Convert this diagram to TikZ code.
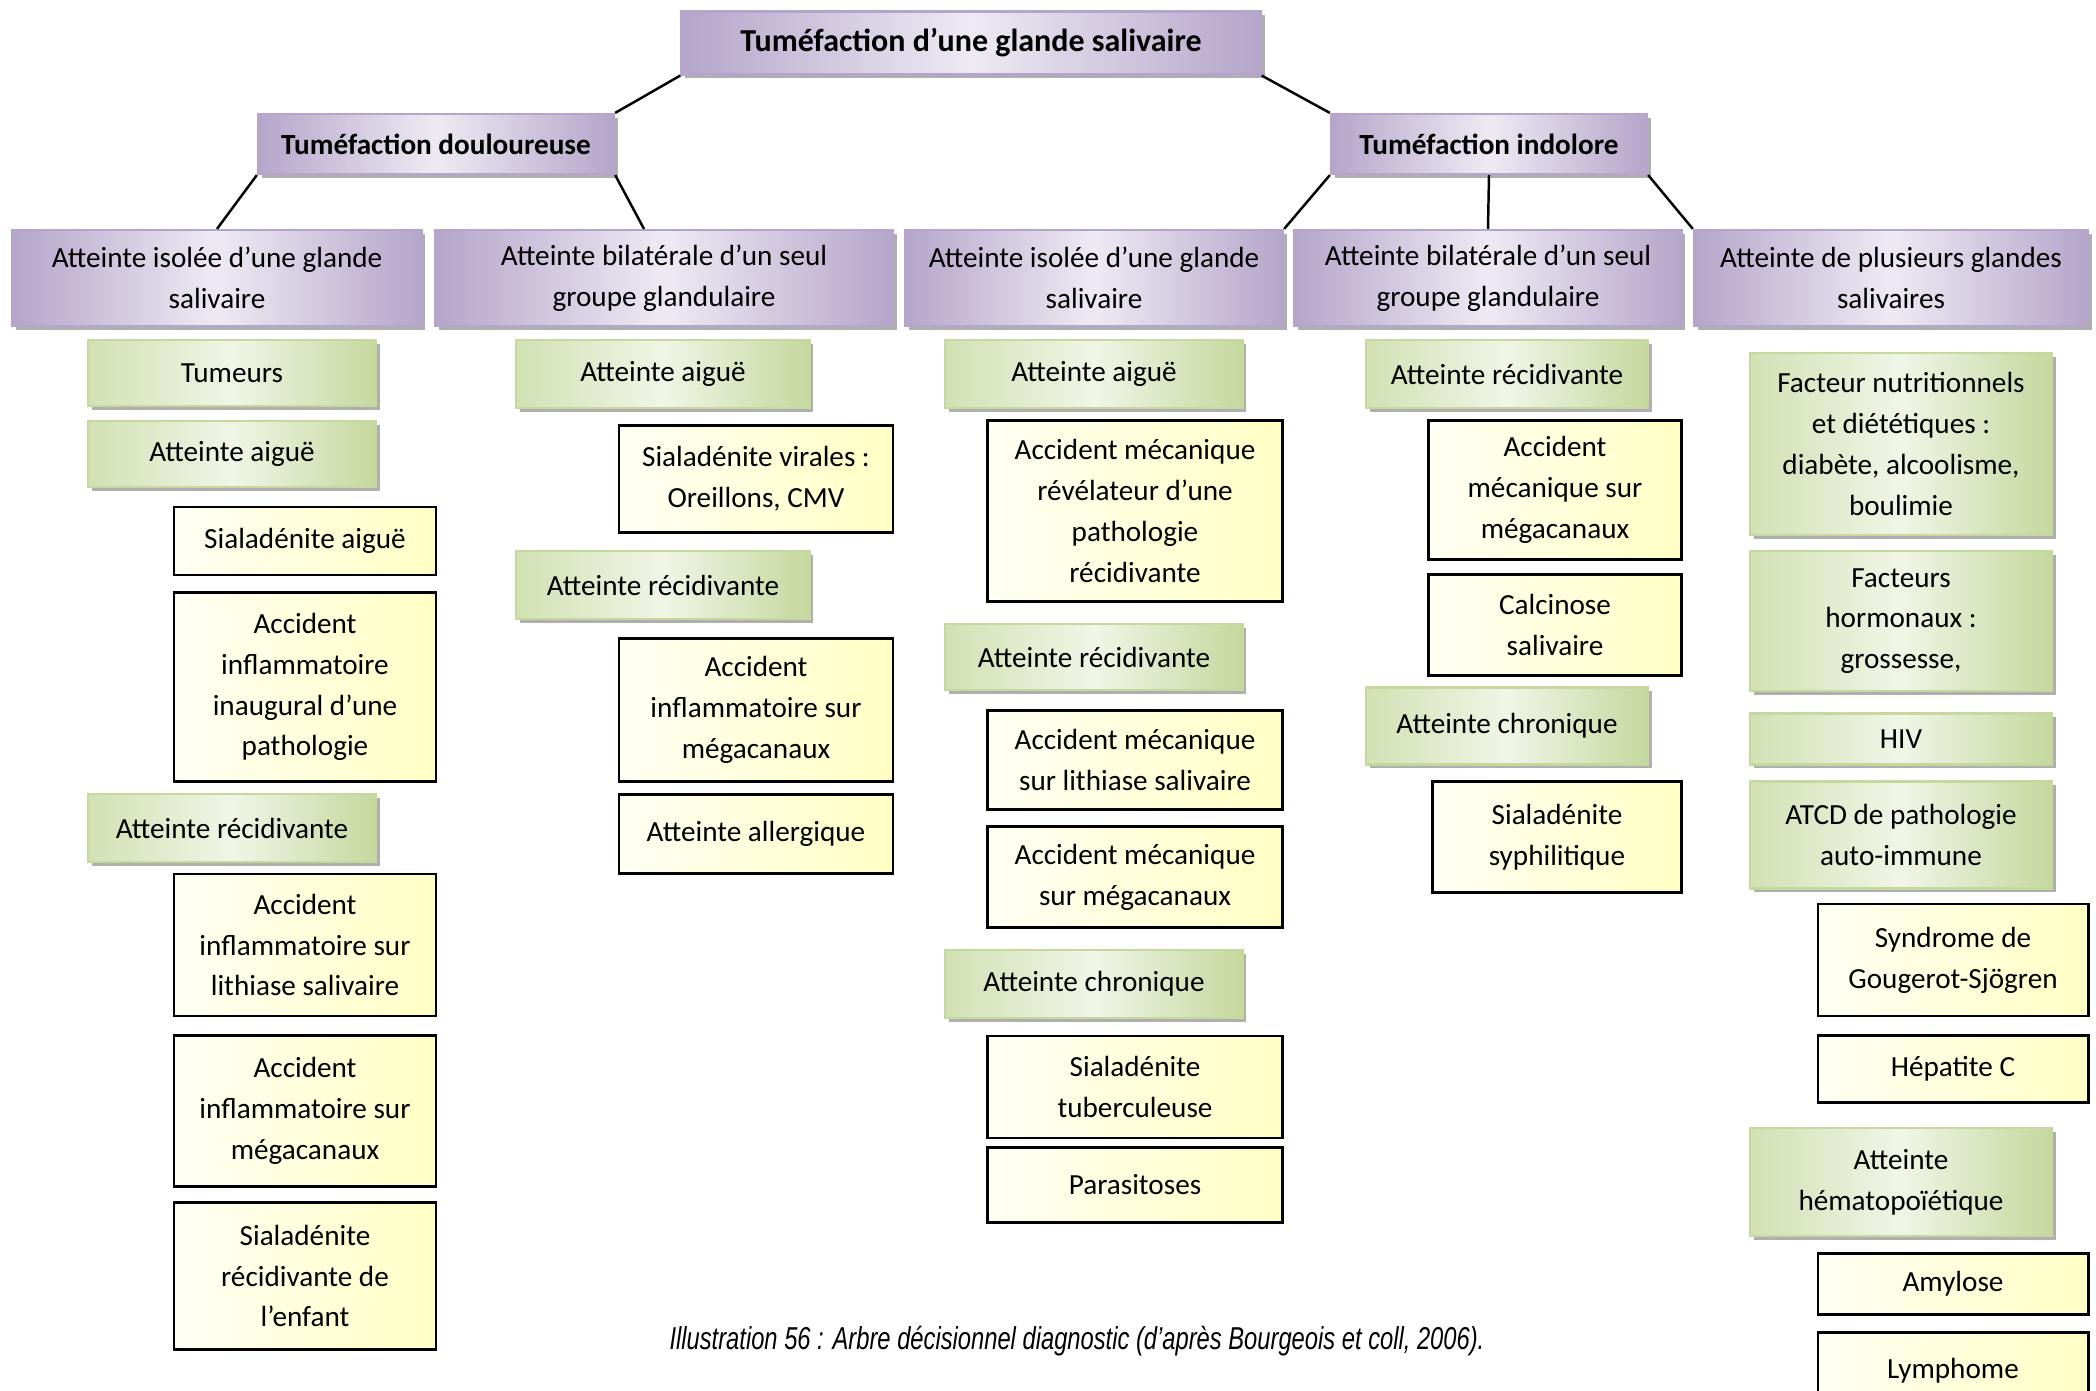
\documentclass[tikz,border=0pt]{standalone}
\usepackage{fontspec}
\setmainfont{Carlito}
\newfontfamily\legende[FakeStretch=0.75]{Liberation Sans}
\usetikzlibrary{shadows,calc}
\definecolor{violetD}{HTML}{B5A5CA}
\definecolor{violetL}{HTML}{EEEAF3}
\definecolor{vertD}{HTML}{C5D89E}
\definecolor{vertL}{HTML}{F0F5E6}
\definecolor{jauneD}{HTML}{FFFFC4}
\definecolor{jauneL}{HTML}{FFFFF4}

\begin{document}
\begin{tikzpicture}[x=0.01cm, y=-0.01cm,
  every node/.style={font=\fontsize{8.3}{11.6}\selectfont, align=center, inner sep=0pt},
  ombre/.style={drop shadow={shadow xshift=1.1pt, shadow yshift=-1.1pt, fill=gray!70, opacity=.9}},
  titre/.style={ombre, draw=violetD, line width=.6pt, left color=violetD, right color=violetD, middle color=violetL},
  vert/.style={ombre, draw=vertD, line width=.6pt, left color=vertD!70!vertL, right color=vertD, middle color=vertL},
  jaune/.style={draw=black, line width=.8pt, left color=jauneL, right color=jauneD},
  lien/.style={line width=.7pt}]
  \useasboundingbox (0,0) rectangle (2096,1391);
  \clip (0,0) rectangle (2096,1391);
  % 根节点与两个分支
  \node[titre, minimum width=5.79cm, minimum height=0.63cm, font=\fontsize{9.1}{11.6}\selectfont\bfseries] (racine) at (971,43) {Tuméfaction d’une glande salivaire};
  \node[titre, minimum width=3.56cm, minimum height=0.60cm, font=\fontsize{8.3}{11.6}\selectfont\bfseries] (douleur) at (436,144) {Tuméfaction douloureuse};
  \node[titre, minimum width=3.16cm, minimum height=0.60cm, font=\fontsize{8.3}{11.6}\selectfont\bfseries] (indolore) at (1489,144) {Tuméfaction indolore};
  % 第二层：五个紫色框
  \node[titre, minimum width=4.09cm, minimum height=0.96cm] (isoleeD) at (217,278) {Atteinte isolée d’une glande\\salivaire};
  \node[titre, minimum width=4.57cm, minimum height=0.96cm] (bilatD) at (664,278) {Atteinte bilatérale d’un seul\\groupe glandulaire};
  \node[titre, minimum width=3.78cm, minimum height=0.96cm] (isoleeI) at (1094,278) {Atteinte isolée d’une glande\\salivaire};
  \node[titre, minimum width=3.87cm, minimum height=0.96cm] (bilatI) at (1488,278) {Atteinte bilatérale d’un seul\\groupe glandulaire};
  \node[titre, minimum width=3.94cm, minimum height=0.96cm] (plusieurs) at (1891,278) {Atteinte de plusieurs glandes\\salivaires};
  % 连线
  \draw[lien] (racine.south west) -- (douleur.north east);
  \draw[lien] (racine.south east) -- (indolore.north west);
  \draw[lien] (douleur.south west) -- (isoleeD.north);
  \draw[lien] (douleur.south east) -- ($(bilatD.north)+(-20,0)$);
  \draw[lien] (indolore.south west) -- (isoleeI.north east);
  \draw[lien] (indolore.south) -- (bilatI.north);
  \draw[lien] (indolore.south east) -- (plusieurs.north west);
  % 第一列
  \node[vert, minimum width=2.88cm, minimum height=0.66cm] (tumeurs) at (232,373) {Tumeurs};
  \node[vert, minimum width=2.88cm, minimum height=0.66cm] (aigueA) at (232,454) {Atteinte aiguë};
  \node[jaune, minimum width=2.62cm, minimum height=0.68cm] (sialAigue) at (305,541) {Sialadénite aiguë};
  \node[jaune, minimum width=2.62cm, minimum height=1.89cm] (inaugural) at (305,687) {Accident\\inflammatoire\\inaugural d’une\\pathologie};
  \node[vert, minimum width=2.88cm, minimum height=0.68cm] (recidA) at (232,828) {Atteinte récidivante};
  \node[jaune, minimum width=2.62cm, minimum height=1.42cm] (lithiaseA) at (305,945) {Accident\\inflammatoire sur\\lithiase salivaire};
  \node[jaune, minimum width=2.62cm, minimum height=1.51cm] (megaA) at (305,1111) {Accident\\inflammatoire sur\\mégacanaux};
  \node[jaune, minimum width=2.62cm, minimum height=1.47cm] (enfant) at (305,1276) {Sialadénite\\récidivante de\\l’enfant};
  % 第二列
  \node[vert, minimum width=2.93cm, minimum height=0.68cm] (aigueB) at (663,374) {Atteinte aiguë};
  \node[jaune, minimum width=2.74cm, minimum height=1.07cm] (virales) at (756,479) {Sialadénite virales :\\Oreillons, CMV};
  \node[vert, minimum width=2.93cm, minimum height=0.68cm] (recidB) at (663,585) {Atteinte récidivante};
  \node[jaune, minimum width=2.74cm, minimum height=1.43cm] (megaB) at (756,710) {Accident\\inflammatoire sur\\mégacanaux};
  \node[jaune, minimum width=2.74cm, minimum height=0.79cm] (allergique) at (756,834) {Atteinte allergique};
  % 第三列
  \node[vert, minimum width=2.97cm, minimum height=0.68cm] (aigueC) at (1094,374) {Atteinte aiguë};
  \node[jaune, minimum width=2.95cm, minimum height=1.81cm] (revelateur) at (1135,511) {Accident mécanique\\révélateur d’une\\pathologie\\récidivante};
  \node[vert, minimum width=2.97cm, minimum height=0.66cm] (recidC) at (1094,657) {Atteinte récidivante};
  \node[jaune, minimum width=2.95cm, minimum height=0.99cm] (lithiaseC) at (1135,760) {Accident mécanique\\sur lithiase salivaire};
  \node[jaune, minimum width=2.95cm, minimum height=1.01cm] (megaC) at (1135,877) {Accident mécanique\\sur mégacanaux};
  \node[vert, minimum width=2.97cm, minimum height=0.68cm] (chroniqueC) at (1094,984) {Atteinte chronique};
  \node[jaune, minimum width=2.95cm, minimum height=1.02cm] (tuberculeuse) at (1135,1087) {Sialadénite\\tuberculeuse};
  \node[jaune, minimum width=2.95cm, minimum height=0.75cm] (parasitoses) at (1135,1185) {Parasitoses};
  % 第四列
  \node[vert, minimum width=2.82cm, minimum height=0.68cm] (recidD) at (1507,374) {Atteinte récidivante};
  \node[jaune, minimum width=2.53cm, minimum height=1.39cm] (megaD) at (1555,490) {Accident\\mécanique sur\\mégacanaux};
  \node[jaune, minimum width=2.53cm, minimum height=1.01cm] (calcinose) at (1555,625) {Calcinose\\salivaire};
  \node[vert, minimum width=2.82cm, minimum height=0.77cm] (chroniqueD) at (1507,726) {Atteinte chronique};
  \node[jaune, minimum width=2.49cm, minimum height=1.11cm] (syphilis) at (1557,837) {Sialadénite\\syphilitique};
  % 第五列
  \node[vert, minimum width=3.02cm, minimum height=1.82cm] (nutrition) at (1901,444) {Facteur nutritionnels\\et diététiques :\\diabète, alcoolisme,\\boulimie};
  \node[vert, minimum width=3.02cm, minimum height=1.40cm] (hormones) at (1901,621) {Facteurs\\hormonaux :\\grossesse,};
  \node[vert, minimum width=3.02cm, minimum height=0.51cm] (hiv) at (1901,739) {HIV};
  \node[vert, minimum width=3.02cm, minimum height=1.07cm] (atcd) at (1901,835) {ATCD de pathologie\\auto-immune};
  \node[jaune, minimum width=2.70cm, minimum height=1.12cm] (sjogren) at (1953,960) {Syndrome de\\Gougerot-Sjögren};
  \node[jaune, minimum width=2.70cm, minimum height=0.67cm] (hepatite) at (1953,1069) {Hépatite C};
  \node[vert, minimum width=3.02cm, minimum height=1.08cm] (hemato) at (1901,1182) {Atteinte\\hématopoïétique};
  \node[jaune, minimum width=2.70cm, minimum height=0.61cm] (amylose) at (1953,1284) {Amylose};
  \node[jaune, minimum width=2.70cm, minimum height=0.77cm] (lymphome) at (1953,1371) {Lymphome};
  % 图注
  \node[font={\legende\fontsize{9}{11}\selectfont\itshape}] (legendeTxt) at (1077,1341) {Illustration 56 : Arbre décisionnel diagnostic (d’après Bourgeois et coll, 2006).};
\end{tikzpicture}
\end{document}
